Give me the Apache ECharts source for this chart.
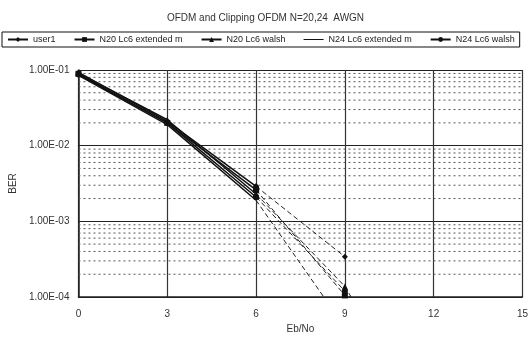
<!DOCTYPE html>
<html><head><meta charset="utf-8">
<script src="https://cdn.jsdelivr.net/npm/echarts@6/dist/echarts.min.js"></script>
<style>html,body{margin:0;padding:0;background:#fff}#c{width:531px;height:343px}</style>
</head><body><div id="c"></div>
<script>
const titleText = 'OFDM and Clipping OFDM N=20,24  AWGN';
const xTicks = [0, 3, 6, 9, 12, 15];
const xMeasured = [0, 3, 6];
const xExtended = [6, 9, 10];
const seriesNames = ['user1', 'N20 Lc6 extended m', 'N20 Lc6 walsh', 'N24 Lc6 extended m', 'N24 Lc6 walsh'];
const symbols = ['diamond', 'rect', 'triangle', 'none', 'circle'];
// measured BER at Eb/No = 0, 3, 6
const user1 = [0.093, 0.021, 0.0029];
const n20Ext = [0.089, 0.020, 0.0026];
const n20Walsh = [0.091, 0.022, 0.0023];
const n24Ext = [0.085, 0.019, 0.0019];
const n24Walsh = [0.087, 0.020, 0.0021];
// dashed extension at Eb/No = 6, 9, 10
const user1Ext = [0.0029, 0.00034, null];
const n20ExtExt = [0.0026, 0.000105, 0.00002];
const n20WalshExt = [0.0023, 0.000138, 0.00003];
const n24ExtExt = [0.0019, 0.00004, null];
const n24WalshExt = [0.0021, 0.00012, 0.00004];
const yMin = 1e-4, yMax = 1e-1;

const measured = [user1, n20Ext, n20Walsh, n24Ext, n24Walsh];
const extended = [user1Ext, n20ExtExt, n20WalshExt, n24ExtExt, n24WalshExt];

// minor (dotted) grid values: 2..9 x each decade
const minorGrid = [];
for (let e = -4; e < -1; e++) for (let k = 2; k <= 9; k++) {
  const v = k * Math.pow(10, e);
  minorGrid.push([0, v], [15, v], '-');
}

function fmt(v) {
  const e = Math.round(Math.log10(v));
  const m = v / Math.pow(10, e);
  const s = e < 0 ? '-' : '+';
  const a = Math.abs(e);
  return m.toFixed(2) + 'E' + s + (a < 10 ? '0' + a : a);
}

const plainLineIcon = 'path://M0,0h0.05v0.05h-0.05zM0,2.5H20V3.5H0zM0,5.95h0.05v0.05h-0.05z';
const font = 'Liberation Sans, Arial, sans-serif';
const series = [{
  name: 'minorGrid', type: 'line', data: minorGrid, symbol: 'none', silent: true,
  connectNulls: false, animation: false, z: 1,
  lineStyle: { color: '#555', width: 1, type: [2, 3] }
}];
measured.forEach((d, i) => {
  series.push({
    name: seriesNames[i], type: 'line', symbol: symbols[i],
    symbolSize: 6, z: 3,
    data: d.map((v, j) => [xMeasured[j], v]),
    lineStyle: { color: '#111', width: 1.5 }, itemStyle: { color: '#111' },
    clip: true, animation: false
  });
});
extended.forEach((d, i) => {
  series.push({
    name: seriesNames[i] + ' trend', type: 'line', symbol: symbols[i],
    symbolSize: 6, connectNulls: false, z: 3,
    data: d.map((v, j) => [xExtended[j], v]),
    lineStyle: { color: '#222', width: 1, type: [5, 3] }, itemStyle: { color: '#111' },
    clip: true, animation: false
  });
});

const chart = echarts.init(document.getElementById('c'), null, { renderer: 'canvas' });
chart.setOption({
  animation: false,
  backgroundColor: '#fff',
  title: { text: titleText, left: 'center', top: 8, textStyle: { fontFamily: font, fontSize: 10, fontWeight: 'normal', color: '#333' } },
  legend: {
    data: seriesNames.map((n, i) => symbols[i] === 'none' ? { name: n, icon: plainLineIcon } : n),
    left: 2, top: 32, width: 527,
    borderColor: '#111', borderWidth: 1, padding: [3, 5], itemGap: 18, itemWidth: 20, itemHeight: 6,
    textStyle: { fontFamily: font, fontSize: 9, color: '#222' }
  },
  grid: { left: 77, right: 1.5, top: 70, bottom: 46, containLabel: false },
  xAxis: {
    type: 'value', min: 0, max: 15, interval: 3,
    name: 'Eb/No', nameLocation: 'middle', nameGap: 27,
    nameTextStyle: { fontFamily: font, fontSize: 10, color: '#333' },
    axisLine: { show: true, lineStyle: { color: '#222', width: 1.5 } },
    axisTick: { show: false },
    axisLabel: { fontFamily: font, fontSize: 10, color: '#333', margin: 12 },
    splitLine: { show: true, lineStyle: { color: '#333', width: 1.2 } }
  },
  yAxis: {
    type: 'log', min: yMin, max: yMax, logBase: 10,
    name: 'BER', nameLocation: 'middle', nameGap: 55, nameRotate: 90,
    nameTextStyle: { fontFamily: font, fontSize: 10, color: '#333' },
    axisLine: { show: true, lineStyle: { color: '#222', width: 1.5 } },
    axisTick: { show: false },
    axisLabel: { fontFamily: font, fontSize: 10, color: '#333', margin: 9, formatter: fmt },
    splitLine: { show: true, lineStyle: { color: '#222', width: 1.2 } }
  },
  series: series
});
</script></body></html>
